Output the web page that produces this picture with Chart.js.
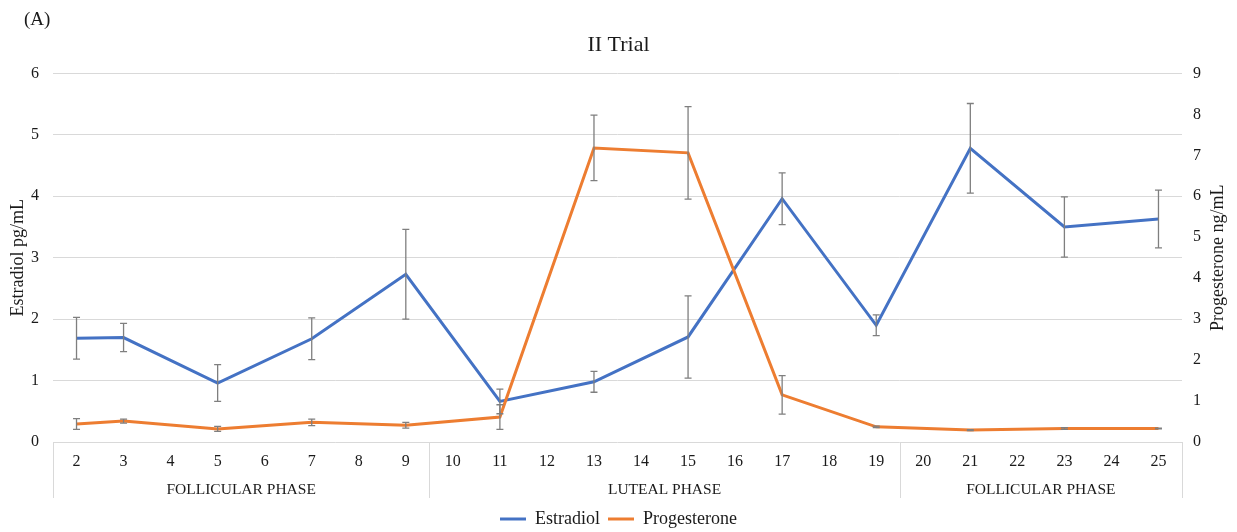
<!DOCTYPE html>
<html>
<head>
<meta charset="utf-8">
<title>II Trial</title>
<script src="https://cdn.jsdelivr.net/npm/chart.js@4.4.1/dist/chart.umd.min.js"></script>
<style>
  html, body { margin: 0; padding: 0; background: #ffffff; }
  #wrap { width: 1237px; height: 532px; position: relative; }
</style>
</head>
<body>
<div id="wrap"><canvas id="hormone-chart"></canvas></div>
<script>
// --- DATA ---
const days = ['2', '3', '4', '5', '6', '7', '8', '9', '10', '11', '12', '13',
              '14', '15', '16', '17', '18', '19', '20', '21', '22', '23', '24', '25'];
const sampleDays = ['2', '3', '5', '7', '9', '11', '13', '15', '17', '19', '21', '23', '25'];

const estradiol = [1.69, 1.70, 0.96, 1.68, 2.73, 0.66, 0.98, 1.71, 3.96, 1.90, 4.78, 3.50, 3.63];
const estradiolErr = [0.34, 0.23, 0.30, 0.34, 0.73, 0.20, 0.17, 0.67, 0.42, 0.17, 0.73, 0.49, 0.47];
const progesterone = [0.44, 0.51, 0.32, 0.48, 0.41, 0.61, 7.18, 7.06, 1.15, 0.37, 0.29, 0.33, 0.33];
const progesteroneErr = [0.13, 0.05, 0.06, 0.08, 0.07, 0.30, 0.80, 1.13, 0.47, 0.02, 0.01, 0.02, 0.01];

const phaseNames = ['FOLLICULAR PHASE', 'LUTEAL PHASE', 'FOLLICULAR PHASE'];
const phaseStart = ['2', '10', '20'];
const phaseEnd = ['9', '19', '25'];

const panelLabel = '(A)';
const chartTitle = 'II Trial';
const leftTitle = 'Estradiol pg/mL';
const rightTitle = 'Progesterone ng/mL';

// --- STYLE ---
const SERIF = '"Liberation Serif", "Times New Roman", serif';
const TEXT = '#1a1a1a';
const GRID = '#d9d9d9';
const BLUE = '#4472C4';
const ORANGE = '#ED7D31';

const toPoints = (values) => values.map((v, i) => ({ x: sampleDays[i], y: v }));

/**
 * Draws vertical error bars with small caps for every point.
 */
const errorBarPlugin = {
    id: 'errorBars',
    afterDatasetsDraw(chart) {
        const ctx = chart.ctx;
        chart.data.datasets.forEach((ds, i) => {
            const meta = chart.getDatasetMeta(i);
            if (meta.hidden) return;
            const yScale = chart.scales[ds.yAxisID];
            ctx.save();
            ctx.strokeStyle = '#7f7f7f';
            ctx.lineWidth = 1.3;
            meta.data.forEach((pt, j) => {
                const v = ds.data[j].y;
                const e = ds.errors[j];
                const top = yScale.getPixelForValue(v + e);
                const bot = yScale.getPixelForValue(v - e);
                ctx.beginPath();
                ctx.moveTo(pt.x, top); ctx.lineTo(pt.x, bot);
                ctx.moveTo(pt.x - 3.5, top); ctx.lineTo(pt.x + 3.5, top);
                ctx.moveTo(pt.x - 3.5, bot); ctx.lineTo(pt.x + 3.5, bot);
                ctx.stroke();
            });
            ctx.restore();
        });
    }
};

/**
 * Second level of the category axis (phases), the right axis title and panel label.
 */
const phaseAxisPlugin = {
    id: 'phaseAxis',
    afterDraw(chart) {
        const ctx = chart.ctx;
        const x = chart.scales.x;
        const area = chart.chartArea;
        const half = (x.getPixelForValue(1) - x.getPixelForValue(0)) / 2;
        const y0 = area.bottom;
        const y1 = area.bottom + 56;

        ctx.save();
        ctx.strokeStyle = GRID;
        ctx.lineWidth = 1;
        ctx.fillStyle = TEXT;
        ctx.font = '15.5px ' + SERIF;
        ctx.textAlign = 'center';
        ctx.textBaseline = 'middle';
        phaseNames.forEach((name, i) => {
            const left = x.getPixelForValue(days.indexOf(phaseStart[i])) - half;
            const right = x.getPixelForValue(days.indexOf(phaseEnd[i])) + half;
            ctx.beginPath();
            ctx.moveTo(Math.round(left) + 0.5, y0); ctx.lineTo(Math.round(left) + 0.5, y1);
            ctx.moveTo(Math.round(right) + 0.5, y0); ctx.lineTo(Math.round(right) + 0.5, y1);
            ctx.stroke();
            ctx.fillText(name, (left + right) / 2, y0 + 47.5);
        });

        // right axis title reads bottom to top
        ctx.font = '18px ' + SERIF;
        ctx.translate(1218, (area.top + area.bottom) / 2);
        ctx.rotate(-Math.PI / 2);
        ctx.fillText(rightTitle, 0, 0);
        ctx.restore();

        ctx.save();
        ctx.fillStyle = TEXT;
        ctx.font = '19px ' + SERIF;
        ctx.textBaseline = 'middle';
        ctx.fillText(panelLabel, 24, 20);
        ctx.restore();
    }
};

new Chart(document.getElementById('hormone-chart'), {
    type: 'line',
    data: {
        labels: days,
        datasets: [{
            label: 'Estradiol',
            data: toPoints(estradiol),
            errors: estradiolErr,
            yAxisID: 'y',
            borderColor: BLUE,
            backgroundColor: BLUE,
            borderWidth: 3,
            pointRadius: 0,
            tension: 0,
            order: 1
        }, {
            label: 'Progesterone',
            data: toPoints(progesterone),
            errors: progesteroneErr,
            yAxisID: 'y1',
            borderColor: ORANGE,
            backgroundColor: ORANGE,
            borderWidth: 3,
            pointRadius: 0,
            tension: 0,
            order: 0
        }]
    },
    options: {
        responsive: true,
        maintainAspectRatio: false,
        animation: false,
        layout: { padding: { left: 0, right: 0, top: 0, bottom: -6 } },
        scales: {
            x: {
                type: 'category',
                offset: true,
                grid: { display: false, drawTicks: false },
                border: { display: false },
                ticks: { color: TEXT, font: { family: SERIF, size: 16 }, padding: 10, maxRotation: 0, autoSkip: false },
                afterFit(scale) { scale.height = 60; }
            },
            y: {
                position: 'left',
                min: 0, max: 6,
                ticks: { stepSize: 1, color: TEXT, font: { family: SERIF, size: 16 }, padding: 14 },
                grid: { color: GRID, lineWidth: 1, drawTicks: false },
                border: { display: false },
                title: { display: true, text: leftTitle, color: TEXT, font: { family: SERIF, size: 18 }, padding: { top: 7, bottom: 0 } },
                afterFit(scale) { scale.width = 53; }
            },
            y1: {
                position: 'right',
                min: 0, max: 9,
                ticks: { stepSize: 1, color: TEXT, font: { family: SERIF, size: 16 }, padding: 11 },
                grid: { display: false, drawTicks: false },
                border: { display: false },
                afterFit(scale) { scale.width = 55; }
            }
        },
        plugins: {
            title: {
                display: true,
                text: chartTitle,
                color: TEXT,
                font: { family: SERIF, size: 22, weight: 'normal' },
                padding: { top: 32, bottom: 15 }
            },
            legend: {
                position: 'bottom',
                labels: {
                    color: TEXT,
                    font: { family: SERIF, size: 18 },
                    usePointStyle: true,
                    pointStyle: 'line',
                    pointStyleWidth: 26,
                    padding: 8,
                    sort: (a, b) => a.datasetIndex - b.datasetIndex
                }
            },
            tooltip: { enabled: false }
        }
    },
    plugins: [errorBarPlugin, phaseAxisPlugin]
});
</script>
</body>
</html>
